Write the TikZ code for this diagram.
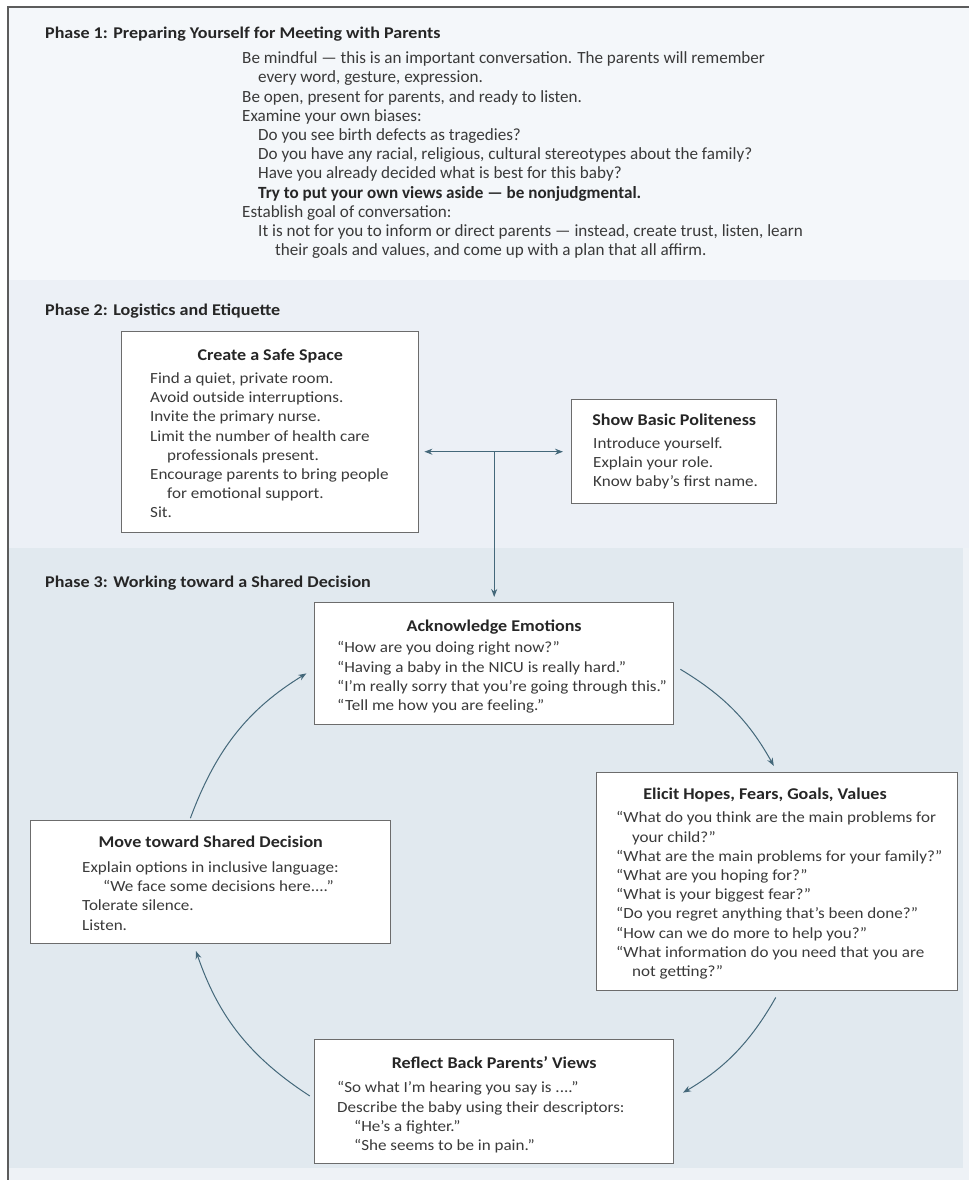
\documentclass[tikz,border=0pt]{standalone}
\usepackage{fontspec}
\setmainfont{Carlito}
\newfontfamily\widefont[FakeStretch=1.1]{Carlito}
\usetikzlibrary{arrows.meta,calc}

\definecolor{phaseone}{HTML}{F4F7FA}
\definecolor{phasetwo}{HTML}{ECF0F6}
\definecolor{phasethree}{HTML}{E1E9EF}
\definecolor{outerbg}{HTML}{EEF2F6}
\definecolor{frameline}{HTML}{5C5C5C}
\definecolor{boxline}{HTML}{6C6C6C}
\definecolor{flow}{HTML}{44687A}
\definecolor{ink}{HTML}{3A3A3A}

\def\gap{\hspace*{16pt}}
\def\gapp{\hspace*{33pt}}

\tikzset{
  phasehead/.style={anchor=base west, inner sep=0, yshift=-1pt, font=\widefont\bfseries\fontsize{16.4}{19}\selectfont, text=black!85},
  % multi-line texts: placed at the baseline of their first line
  lines/.style={anchor=north west, inner sep=0, align=left, yshift=10.44pt, execute at begin node=\strut, text=ink},
  phasebody/.style={lines, font=\fontsize{17.1}{19.2}\selectfont},
  bodytext/.style={lines, font=\widefont\fontsize{15.5}{19.2}\selectfont},
  boxframe/.style={draw=boxline, line width=1.4pt, fill=white, anchor=north west, inner sep=0},
  boxhead/.style={anchor=base, inner sep=0, yshift=-1pt, font=\widefont\bfseries\fontsize{16.4}{19}\selectfont, text=black!85},
  flowline/.style={draw=flow, line width=1pt},
  flowarrow/.style={flowline, -{Stealth[length=8pt,width=6pt]}},
}

\begin{document}
\begin{tikzpicture}[x=1pt,y=-1pt]
\useasboundingbox (0,0) rectangle (969,1180);

%% phase bands and frame
\fill[outerbg] (8,7) rectangle (969,1180);
\fill[phaseone] (8,7) rectangle (969,280);
\fill[phasetwo] (8,280) rectangle (969,548);
\fill[phasethree] (8,548) rectangle (963,1168);
\draw[frameline, line width=1.2pt] (8,1180) -- (8,7) -- (969,7);

%% phase 1
\node[phasehead] (ponehead) at (45,38) {Phase 1: Preparing Yourself for Meeting with Parents};
\node[phasebody] (ponebody) at (242,62) {Be mindful --- this is an important conversation. The parents will remember\\
\gap every word, gesture, expression.\\
Be open, present for parents, and ready to listen.\\
Examine your own biases:\\
\gap Do you see birth defects as tragedies?\\
\gap Do you have any racial, religious, cultural stereotypes about the family?\\
\gap Have you already decided what is best for this baby?\\
\gap{\bfseries\color{black!85}Try to put your own views aside --- be nonjudgmental.}\\
Establish goal of conversation:\\
\gap It is not for you to inform or direct parents --- instead, create trust, listen, learn\\
\gapp their goals and values, and come up with a plan that all affirm.};

%% phase 2
\node[phasehead] (ptwohead) at (45,314) {Phase 2: Logistics and Etiquette};

\node[boxframe, minimum width=297, minimum height=201] (safe) at (121,331) {};
\node[boxhead] at ($(safe.north)+(0,28)$) {Create a Safe Space};
\node[bodytext] at ($(safe.north west)+(29,52)$) {Find a quiet, private room.\\
Avoid outside interruptions.\\
Invite the primary nurse.\\
Limit the number of health care\\
\hspace*{17pt}professionals present.\\
Encourage parents to bring people\\
\hspace*{17pt}for emotional support.\\
Sit.};

\node[boxframe, minimum width=205, minimum height=104] (polite) at (571,399) {};
\node[boxhead] at ($(polite.north)+(0,25)$) {Show Basic Politeness};
\node[bodytext] at ($(polite.north west)+(22,49)$) {Introduce yourself.\\
Explain your role.\\
Know baby’s first name.};

% connector between the two boxes
\draw[flowline, {Stealth[length=8pt,width=6pt]}-{Stealth[length=8pt,width=6pt]}, shorten <=5, shorten >=8] (safe.east |- polite.west) -- (polite.west);

%% phase 3
\node[phasehead] (pthreehead) at (45,586) {Phase 3: Working toward a Shared Decision};

\node[boxframe, minimum width=359, minimum height=122] (ack) at (314,602) {};
\node[boxhead] at ($(ack.north)+(0,28)$) {Acknowledge Emotions};
\node[bodytext] at ($(ack.north west)+(23,50)$) {“How are you doing right now?”\\
“Having a baby in the NICU is really hard.”\\
“I’m really sorry that you’re going through this.”\\
“Tell me how you are feeling.”};

\node[boxframe, minimum width=361, minimum height=218] (elicit) at (596,772) {};
\node[boxhead] at ($(elicit.north west)+(169,26)$) {Elicit Hopes, Fears, Goals, Values};
\node[bodytext] at ($(elicit.north west)+(20,50)$) {“What do you think are the main problems for\\
\gap your child?”\\
“What are the main problems for your family?”\\
“What are you hoping for?”\\
“What is your biggest fear?”\\
“Do you regret anything that’s been done?”\\
“How can we do more to help you?”\\
“What information do you need that you are\\
\gap not getting?”};

\node[boxframe, minimum width=360, minimum height=123] (move) at (30,820) {};
\node[boxhead] at ($(move.north)+(0,26)$) {Move toward Shared Decision};
\node[bodytext] at ($(move.north west)+(52,52)$) {Explain options in inclusive language:\\
\hspace*{21pt}“We face some decisions here....”\\
Tolerate silence.\\
Listen.};

\node[boxframe, minimum width=359, minimum height=124] (reflect) at (314,1039) {};
\node[boxhead] at ($(reflect.north)+(0,28)$) {Reflect Back Parents’ Views};
\node[bodytext] at ($(reflect.north west)+(23,53)$) {“So what I’m hearing you say is ....”\\
Describe the baby using their descriptors:\\
\hspace*{17pt}“He’s a fighter.”\\
\hspace*{17pt}“She seems to be in pain.”};

% down from phase 2 into the cycle
\coordinate (junc) at (ack.north |- polite.west);
\draw[flowarrow, shorten >=5] (junc) -- (ack.north);

% the cycle, clockwise
\draw[flowarrow, shorten <=7, shorten >=7] ($(ack.east)+(0,2)$) to[bend left=15] (elicit.north);
\draw[flowarrow, shorten <=7, shorten >=10] ($(elicit.south)+(2,0)$) to[bend left=15] ($(reflect.east)+(0,-4)$);
\draw[flowarrow, shorten <=5, shorten >=7] ($(reflect.west)+(0,-3)$) to[bend left=19] ($(move.south)+(-17,0)$);
\draw[flowarrow, shorten <=2, shorten >=9] ($(move.north)+(-21,0)$) to[bend left=19] ($(ack.west)+(0,5)$);

\end{tikzpicture}
\end{document}
